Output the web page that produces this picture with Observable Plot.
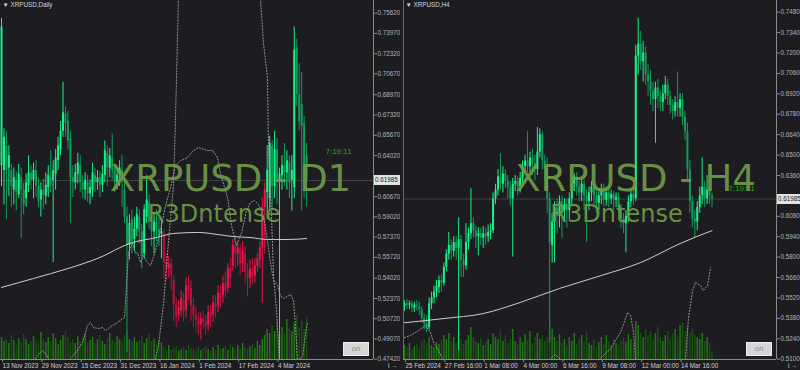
<!DOCTYPE html>
<html><head><meta charset="utf-8">
<script src="https://cdn.jsdelivr.net/npm/d3@7"></script>
<script src="https://cdn.jsdelivr.net/npm/@observablehq/plot@0.6"></script>
<style>
html,body{margin:0;padding:0;background:#1d1d21;}
#wrap{position:relative;width:800px;height:370px;overflow:hidden;background:#1d1d21;}
.panel{position:absolute;top:0;width:400px;height:370px;}
.panel svg{position:absolute;left:0;top:0;}
.btn{position:absolute;top:342px;width:26px;height:14px;background:#d6d6d6;border:1px solid #eeeeee;box-sizing:border-box;color:#8a8a8a;font:8px "Liberation Sans",Arial,sans-serif;text-align:center;line-height:12px;}
.pbox{position:absolute;height:10px;width:26px;background:#e2e2e2;color:#1a1a1a;font:6.3px "Liberation Sans",Arial,sans-serif;line-height:10px;padding-left:1px;box-sizing:border-box;}
</style></head><body><div id="wrap"></div><script>
// ---------- texts ----------
const d1Title = "▼ XRPUSD,Daily";
const h4Title = "▼ XRPUSD,H4";
const d1Mark = "XRPUSD - D1";
const h4Mark = "XRPUSD - H4";
const brand = "R3Dntense";
const timerText = "7:19:11";
const buttonText = "on";
const lastPrice = 0.61985;

// ---------- axes ----------
const d1DateIdx = [0,16,32,48,64,80,96,112];
const d1DateLabels = ["13 Nov 2023","29 Nov 2023","15 Dec 2023","31 Dec 2023","16 Jan 2024","1 Feb 2024","17 Feb 2024","4 Mar 2024"];
const h4DateIdx = [0,16,32,48,64,80,96,112];
const h4DateLabels = ["25 Feb 2024","27 Feb 16:00","1 Mar 08:00","4 Mar 00:00","6 Mar 16:00","9 Mar 08:00","12 Mar 00:00","14 Mar 16:00"];
const d1Ticks = [0.75620,0.73970,0.72320,0.70670,0.68970,0.67320,0.65670,0.64020,0.60670,0.59020,0.57370,0.55720,0.54020,0.52370,0.50720,0.49070,0.47420];
const h4Ticks = [0.74800,0.73400,0.72000,0.70600,0.69200,0.67800,0.66400,0.65000,0.63600,0.60800,0.59400,0.58000,0.56600,0.55200,0.53800,0.52400,0.51000];
const xDomain = [-0.41, 151.2];
const d1YDomain = [0.47397, 0.76655];
const h4YDomain = [0.50979, 0.75602];
const volDomain = [0, 359];

// ---------- D1 candles [open, high, low, close] ----------
const d1Candles = [
[.632,.752,.615,.745],[.628,.662,.600,.655],[.648,.660,.588,.628],[.630,.648,.607,.640],[.628,.633,.598,.615],
[.612,.630,.600,.622],[.620,.627,.595,.610],[.608,.633,.605,.625],[.622,.630,.573,.612],[.612,.618,.592,.600],
[.605,.625,.598,.618],[.616,.640,.610,.626],[.626,.632,.612,.620],[.620,.634,.605,.628],[.628,.636,.606,.615],
[.615,.622,.598,.603],[.604,.618,.590,.612],[.612,.621,.596,.608],[.607,.626,.600,.616],[.614,.632,.606,.624],
[.622,.644,.610,.616],[.620,.636,.553,.628],[.625,.645,.612,.638],[.636,.655,.628,.648],[.645,.668,.640,.660],
[.660,.700,.655,.675],[.674,.680,.655,.666],[.668,.676,.645,.652],[.654,.660,.585,.622],[.622,.632,.606,.618],
[.618,.633,.612,.626],[.625,.642,.617,.634],[.632,.640,.610,.618],[.618,.624,.605,.612],[.612,.626,.604,.620],
[.618,.624,.602,.609],[.609,.620,.600,.614],[.612,.634,.606,.626],[.624,.630,.610,.618],[.618,.628,.612,.622],
[.622,.627,.606,.616],[.616,.632,.610,.625],[.624,.652,.618,.644],[.642,.648,.615,.630],[.630,.646,.622,.640],
[.638,.658,.620,.628],[.628,.633,.610,.618],[.618,.630,.612,.624],[.624,.636,.615,.630],[.628,.640,.598,.620],
[.612,.622,.585,.590],[.590,.598,.480,.567],[.567,.592,.555,.585],[.588,.596,.560,.570],[.572,.590,.562,.580],
[.580,.598,.574,.592],[.590,.596,.568,.578],[.578,.584,.548,.558],[.560,.600,.556,.596],[.590,.624,.585,.604],
[.602,.608,.580,.586],[.586,.593,.566,.578],[.578,.594,.560,.586],[.585,.596,.570,.580],[.580,.590,.566,.574],
[.576,.586,.556,.578],[.576,.580,.540,.553],[.553,.560,.538,.548],[.548,.558,.540,.552],[.552,.556,.530,.542],
[.538,.542,.505,.518],[.518,.524,.500,.508],[.510,.522,.505,.516],[.514,.530,.508,.524],[.522,.528,.505,.512],
[.514,.540,.508,.534],[.534,.542,.522,.530],[.532,.538,.505,.518],[.518,.524,.500,.510],[.510,.516,.496,.506],
[.506,.512,.494,.502],[.502,.512,.490,.507],[.507,.513,.498,.504],[.504,.510,.494,.500],[.502,.518,.497,.512],
[.512,.518,.500,.508],[.510,.526,.504,.520],[.520,.526,.508,.516],[.518,.534,.512,.528],[.528,.534,.516,.524],
[.526,.542,.520,.536],[.536,.545,.524,.530],[.532,.552,.528,.548],[.548,.556,.532,.540],[.550,.572,.546,.567],
[.566,.574,.548,.560],[.560,.570,.550,.565],[.564,.568,.542,.552],[.552,.570,.545,.562],[.560,.566,.536,.545],
[.546,.552,.525,.540],[.540,.555,.532,.548],[.548,.556,.535,.542],[.542,.556,.536,.550],[.550,.560,.545,.556],
[.555,.570,.548,.565],[.565,.606,.520,.598],[.598,.618,.560,.612],[.610,.648,.588,.628],[.605,.656,.596,.650],
[.648,.652,.596,.615],[.615,.660,.605,.645],[.645,.654,.600,.620],[.620,.630,.470,.625],[.624,.640,.612,.632],
[.632,.650,.615,.626],[.626,.644,.612,.636],[.634,.640,.605,.618],[.620,.640,.595,.628],[.614,.745,.605,.726],
[.728,.735,.680,.690],[.690,.715,.660,.668],[.682,.708,.595,.664],[.666,.672,.605,.620],[.640,.650,.598,.61985]
];
const d1RedRange = [66, 107];
const d1Volume = [22,18,20,16,24,19,14,21,17,25,20,15,18,23,19,16,27,20,17,22,18,26,21,15,19,24,28,22,17,20,16,23,18,21,25,17,19,22,16,20,24,18,15,21,26,19,17,23,20,18,
24,28,20,18,22,17,19,23,16,21,25,18,20,15,19,17,
12,10,14,9,11,13,8,10,12,9,14,11,10,8,12,9,11,13,10,8,12,9,14,10,11,13,9,15,12,10,14,11,16,12,10,13,15,11,18,14,20,24,
30,26,34,28,38,24,32,26,40,30,28,36,44,32,38,30,42];
const d1MA = [[0,.5327],[13,.5400],[27,.5481],[40,.5571],[52,.5685],[63,.5734],[70,.5767],[80,.5775],[88,.5758],[94,.5742],[101,.5734],[108,.5718],[117,.5718],[124,.5726]];
const d1DotsA = [[60.6,.4683],[62.6,.4748],[63.8,.4853],[65.9,.5204],[67.5,.5611],[68.7,.5888],[69.9,.6157],[70.7,.6687],[71.9,.7665],[73.6,.8154],
[103.7,.8154],[105.3,.7665],[106.5,.7315],[108.1,.7038],[108.5,.6500],[109.8,.5872],[110.6,.5407],[111.8,.5139],[112.6,.4853],[113,.4683]];
const d1DotsB = [[11.8,.4690],[14.6,.4772],[16.7,.4813],[17.9,.4789],[19.1,.4748],[22,.4683],[27.2,.4683],[28,.4748],[30.9,.4813],[32.9,.4878],
[35,.5016],[36.2,.5041],[37.4,.5000],[39.4,.4992],[41.1,.5000],[42.3,.4976],[43.5,.4992],[45.1,.5016],[47.2,.5041],[49.2,.5073],[50,.5081],
[50.8,.5342],[51.6,.5611],[53.3,.5693],[54.5,.5603],[55.3,.5611],[56.5,.5530],[57.7,.5587],[59.3,.5530],[60.6,.5506],[62.6,.5628],[64.6,.5791],
[66.7,.5995],[68.7,.6141],[70.7,.6321],[72.8,.6361],[75.6,.6385],[78,.6443],[80.1,.6467],[83.7,.6443],[85.8,.6443],[87.8,.6385],[89,.6255],
[91.9,.6059],[93.5,.5831],[95.5,.5668],[97.6,.5775],[99.6,.5954],[101.2,.6019],[102.8,.6035],[104.5,.6002],[106.5,.5905],[108.1,.5709],
[109.3,.5530],[110.6,.5383],[112.2,.5342],[113.4,.5261],[114.6,.5236],[117.5,.5269],[118.7,.5220],[119.5,.5016],[120.3,.4731],[122.4,.4764],
[123.6,.4959],[124.4,.5041]];

// ---------- H4 candles [open, high, low, close] ----------
const h4Candles = [
[.546,.550,.543,.548],[.548,.551,.544,.547],[.547,.550,.544,.548],[.548,.550,.542,.545],[.545,.549,.542,.547],
[.547,.550,.543,.546],[.546,.549,.540,.544],[.544,.546,.535,.538],[.538,.541,.530,.534],[.534,.540,.528,.531],
[.532,.552,.530,.548],[.548,.556,.544,.552],[.552,.560,.548,.556],[.556,.564,.552,.560],[.559,.567,.555,.564],
[.564,.568,.556,.562],[.562,.576,.560,.573],[.573,.585,.570,.582],[.582,.597,.578,.588],[.588,.592,.578,.584],
[.584,.594,.580,.590],[.590,.594,.578,.586],[.586,.607,.516,.592],[.592,.595,.566,.578],[.578,.582,.566,.574],
[.574,.603,.571,.590],[.590,.600,.585,.596],[.596,.627,.592,.603],[.603,.607,.593,.598],[.598,.601,.586,.594],
[.594,.600,.581,.596],[.596,.600,.588,.593],[.593,.601,.586,.596],[.596,.600,.588,.594],[.594,.602,.590,.597],
[.597,.603,.592,.598],[.598,.624,.596,.620],[.620,.630,.616,.626],[.626,.640,.622,.635],[.635,.651,.626,.630],
[.630,.642,.624,.637],[.637,.640,.627,.632],[.632,.636,.620,.628],[.628,.632,.615,.620],[.620,.634,.580,.630],
[.630,.636,.625,.632],[.632,.635,.622,.628],[.628,.638,.624,.634],[.634,.646,.630,.642],[.642,.650,.638,.646],
[.646,.666,.638,.642],[.642,.652,.638,.648],[.648,.654,.636,.644],[.644,.650,.632,.640],[.640,.669,.636,.652],
[.652,.668,.648,.664],[.664,.666,.640,.646],[.646,.650,.632,.640],[.640,.648,.610,.620],[.620,.624,.521,.590],
[.588,.610,.576,.604],[.604,.618,.576,.614],[.614,.620,.596,.608],[.608,.622,.600,.618],[.618,.622,.593,.612],
[.612,.620,.604,.616],[.616,.620,.600,.612],[.612,.624,.606,.620],[.620,.634,.615,.630],[.630,.637,.625,.635],
[.635,.638,.622,.628],[.628,.632,.618,.624],[.624,.634,.618,.630],[.630,.633,.612,.622],[.622,.626,.590,.618],
[.618,.628,.612,.624],[.624,.632,.618,.628],[.628,.631,.616,.622],[.622,.626,.610,.617],[.617,.627,.612,.622],
[.622,.630,.616,.626],[.626,.630,.614,.619],[.619,.628,.615,.624],[.624,.627,.614,.620],[.620,.626,.616,.623],
[.623,.625,.612,.619],[.619,.624,.614,.621],[.621,.624,.610,.614],[.614,.616,.600,.606],[.606,.610,.596,.603],
[.603,.612,.583,.608],[.608,.622,.604,.618],[.618,.627,.614,.623],[.623,.628,.615,.620],[.620,.725,.618,.718],
[.718,.744,.705,.726],[.726,.735,.708,.714],[.714,.728,.700,.720],[.720,.724,.698,.705],[.705,.712,.690,.700],
[.700,.708,.684,.694],[.694,.700,.680,.688],[.688,.700,.658,.696],[.696,.702,.682,.690],[.690,.694,.680,.686],
[.686,.698,.680,.692],[.692,.704,.688,.698],[.698,.702,.684,.690],[.690,.694,.678,.684],[.684,.688,.674,.680],
[.680,.690,.676,.686],[.686,.707,.676,.682],[.682,.692,.676,.688],[.688,.692,.670,.676],[.676,.680,.660,.666],
[.666,.672,.632,.640],[.640,.646,.610,.618],[.618,.622,.600,.606],[.606,.612,.593,.604],[.604,.618,.598,.614],
[.614,.628,.610,.622],[.622,.648,.616,.628],[.628,.632,.614,.620],[.620,.636,.616,.626],[.626,.630,.616,.622],
[.622,.624,.614,.61985]
];
const h4RedRange = [-1, -1];
const h4Volume = [14,12,16,10,13,15,11,18,20,16,22,14,12,17,15,19,
24,20,26,18,22,16,28,20,15,19,24,32,22,18,16,21,14,17,20,15,
26,22,20,28,18,24,16,20,30,18,15,22,17,25,19,28,16,22,26,20,24,18,22,
44,30,22,18,25,16,20,14,22,18,26,15,20,24,18,28,16,14,20,12,17,22,15,24,18,13,20,16,14,19,22,17,25,20,16,
38,34,26,22,30,24,28,20,26,32,22,18,24,28,20,26,30,22,34,36,28,32,26,30,24,22,20,26,18,22,16,8];
const h4MA = [[0,.5350],[16,.5379],[32,.5413],[47,.5489],[63,.5585],[80,.5674],[96,.5763],[112,.5893],[125,.5982]];
const h4DotsA = [[0,.5249],[2.4,.5262],[5.7,.5297],[8.5,.5331],[10.6,.5283],[11.8,.5214],[13.4,.5173],[15.4,.5105],[16.7,.5050],
[58.5,.5050],[59.8,.5112],[61.4,.5132],[63,.5105],[64.2,.5050],[78,.5050],[79.7,.5105],[83.7,.5173],[87.8,.5283],[90.7,.5420],
[91.9,.5400],[93.1,.5283],[93.9,.5105],[94.7,.5050],[113.4,.5050],[114.2,.5105],[115.4,.5379],[117.1,.5571],[118.3,.5626],
[120.3,.5605],[121.5,.5571],[123.2,.5605],[124.4,.5728]];

// ---------- drawing ----------
const bg = "#1d1d21";
const wrap = document.getElementById("wrap");

function buildPanel(cfg) {
  const div = document.createElement("div");
  div.className = "panel";
  div.style.left = cfg.left + "px";
  wrap.appendChild(div);

  const C = cfg.candles.map(([o,h,l,c], i) => ({i, o, h, l, c,
    red: i >= cfg.red[0] && i <= cfg.red[1], up: c >= o}));
  const col = d => d.red ? (d.up ? "#e8174a" : "#b8123c") : (d.up ? "#1cf08a" : "#119c57");
  const V = cfg.vol.map((v, i) => ({i, v, up: C[i] ? C[i].up : true}));

  const common = {width: 400, height: 370, marginLeft: cfg.ml, marginRight: cfg.mr,
    marginTop: 0, marginBottom: 11, color: {type: "identity"}};

  const volPlot = Plot.plot({...common,
    x: {domain: xDomain, axis: null},
    y: {domain: volDomain, axis: null},
    style: {background: bg},
    marks: [
      Plot.ruleX(V, {x: "i", y1: 0, y2: "v", stroke: d => d.up ? "#247c17" : "#17520f", strokeWidth: 1.4})
    ]});
  div.appendChild(volPlot);

  const txt = {fontFamily: "DejaVu Sans, sans-serif", fill: "#6f9c48", fillOpacity: 0.92, frameAnchor: "middle", lineAnchor: "middle"};
  const marks = [
    Plot.ruleY([lastPrice], {stroke: "#404045", strokeWidth: 1}),
    Plot.ruleX(C, {x: "i", y1: "l", y2: "h", stroke: col, strokeWidth: 1, clip: true}),
    Plot.ruleX(C, {x: "i", y1: "o", y2: "c", stroke: col, strokeWidth: 2, clip: true}),
    Plot.line(cfg.ma, {x: d => d[0], y: d => d[1], stroke: "#cfcfcf", strokeWidth: 1, curve: "monotone-x", clip: true}),
    ...cfg.dots.map(s => Plot.line(s, {x: d => d[0], y: d => d[1], stroke: "#a0a0a0", strokeWidth: 0.9, strokeDasharray: "1.2,1.8", clip: true})),
    Plot.ruleY([cfg.yDomain[0]], {stroke: "#8a8a8a"}),
    Plot.ruleX([xDomain[1]], {stroke: "#8a8a8a"}),
    ...(cfg.leftBorder ? [Plot.ruleX([xDomain[0]], {stroke: "#6a6a6e"})] : []),
    Plot.axisY(cfg.ticks, {anchor: "right", tickSize: 3, tickPadding: 1, tickFormat: d3.format(".5f"),
      fill: "#b4b4b4", stroke: "#8a8a8a", fontSize: 6.3}),
    Plot.axisX(cfg.dateIdx, {anchor: "bottom", tickSize: 3, tickPadding: 1, textAnchor: "start", dx: 1,
      tickFormat: d => cfg.dateLabels[cfg.dateIdx.indexOf(d)], fill: "#cfcfcf", stroke: "#8a8a8a", fontSize: 6.3}),
    Plot.text([cfg.title], {frameAnchor: "top-left", lineAnchor: "top", textAnchor: "start", dx: 2, dy: 2,
      fill: "#d6d6d6", fontSize: 6.3}),
    Plot.text([timerText], {frameAnchor: "middle", lineAnchor: "middle", textAnchor: "start", dx: 138.5, dy: cfg.timerDy,
      fill: "#2f9e2f", fontSize: 8}),
    Plot.text([cfg.mark], {...txt, dx: cfg.markDx, dy: -1.3, fontSize: 37}),
    Plot.text([brand], {...txt, dx: cfg.brandDx, dy: 34.8, fontSize: 24})
  ];

  const pricePlot = Plot.plot({...common,
    x: {domain: xDomain},
    y: {domain: cfg.yDomain},
    style: {background: "transparent", color: "#b4b4b4", fontFamily: "Liberation Sans, Arial, sans-serif", fontSize: "6.3px", overflow: "visible"},
    marks});
  div.appendChild(pricePlot);

  const yPix = pricePlot.scale("y").apply(lastPrice);
  const box = document.createElement("div");
  box.className = "pbox";
  box.textContent = d3.format(".5f")(lastPrice);
  box.style.left = (400 - cfg.mr + 1) + "px";
  box.style.top = (yPix - 5) + "px";
  div.appendChild(box);

  const btn = document.createElement("div");
  btn.className = "btn";
  btn.textContent = buttonText;
  btn.style.left = (400 - cfg.mr - 30) + "px";
  div.appendChild(btn);
}

buildPanel({left: 0, ml: 0, mr: 27, candles: d1Candles, red: d1RedRange, vol: d1Volume, ma: d1MA,
  dots: [d1DotsA, d1DotsB], ticks: d1Ticks, yDomain: d1YDomain, dateIdx: d1DateIdx, dateLabels: d1DateLabels,
  title: d1Title, mark: d1Mark, markDx: 43.5, brandDx: 27, timerDy: -28.6, leftBorder: false});
buildPanel({left: 400, ml: 3, mr: 24, candles: h4Candles, red: h4RedRange, vol: h4Volume, ma: h4MA,
  dots: [h4DotsA], ticks: h4Ticks, yDomain: h4YDomain, dateIdx: h4DateIdx, dateLabels: h4DateLabels,
  title: h4Title, mark: h4Mark, markDx: 45.5, brandDx: 26.5, timerDy: 8, leftBorder: true});
</script></body></html>
